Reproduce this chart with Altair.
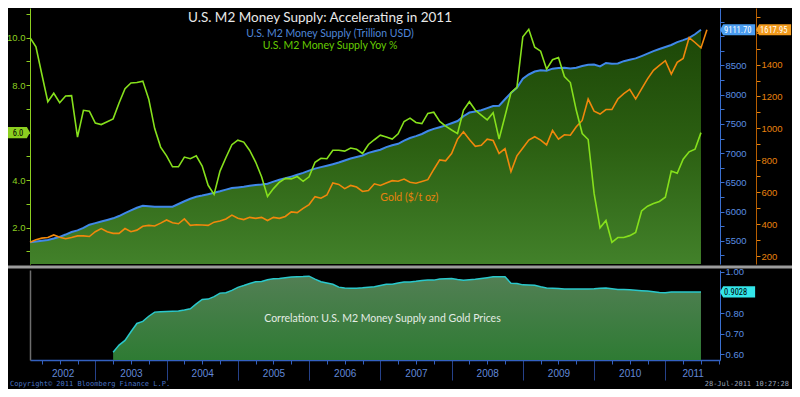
import altair as alt
import pandas as pd

# ---------------- data ----------------
# monthly observations, month-end positions, Jan 2002 .. Jul 2011
MONTHS = [f"{2002 + k // 12}-{k % 12 + 1:02d}" for k in range(115)]

# U.S. M2 money supply YoY % (Jan 2002 .. Jun 2011)
M2_YOY = [10.00, 9.61, 8.45, 7.30, 7.66, 7.26, 7.54, 7.56, 5.81, 6.94,
          6.90, 6.40, 6.34, 6.46, 6.58, 7.25, 7.85, 8.09, 8.11, 8.17,
          7.41, 6.17, 5.39, 5.02, 4.56, 4.56, 4.97, 4.90, 5.02, 4.59,
          3.78, 3.40, 4.38, 4.95, 5.49, 5.68, 5.60, 5.25, 4.76, 4.14,
          3.31, 3.64, 3.91, 4.07, 4.05, 4.15, 3.95, 4.14, 4.75, 4.92,
          4.90, 5.26, 5.26, 5.22, 5.35, 5.30, 5.12, 5.50, 5.70, 5.89,
          5.82, 5.73, 5.95, 6.47, 6.61, 6.43, 6.38, 6.81, 6.86, 6.47,
          6.27, 6.11, 5.96, 6.94, 7.30, 6.94, 6.74, 6.54, 6.84, 5.73,
          6.70, 7.68, 7.91, 10.04, 10.35, 9.60, 9.43, 8.67, 9.07, 9.16,
          8.36, 8.11, 6.94, 5.96, 5.71, 3.44, 1.99, 2.30, 1.38, 1.58,
          1.58, 1.66, 1.79, 2.70, 2.90, 3.01, 3.10, 3.28, 4.38, 4.29,
          4.88, 5.19, 5.30, 6.00]

# U.S. M2 money supply level (billion USD, Jan 2002 .. Jun 2011)
M2_LEVEL = [5474, 5487, 5500, 5513, 5538, 5567, 5606, 5650, 5678, 5720,
            5774, 5802, 5828, 5856, 5884, 5923, 5973, 6019, 6064, 6097,
            6090, 6081, 6081, 6082, 6083, 6129, 6176, 6218, 6253, 6273,
            6297, 6320, 6346, 6375, 6403, 6413, 6425, 6440, 6453, 6461,
            6477, 6512, 6543, 6569, 6598, 6629, 6662, 6700, 6735, 6760,
            6785, 6811, 6839, 6874, 6909, 6933, 6959, 7004, 7032, 7058,
            7102, 7134, 7160, 7214, 7259, 7291, 7328, 7378, 7415, 7444,
            7475, 7512, 7549, 7631, 7694, 7713, 7733, 7770, 7805, 7812,
            7922, 8031, 8119, 8275, 8346, 8396, 8420, 8410, 8446, 8458,
            8461, 8448, 8463, 8490, 8514, 8517, 8484, 8543, 8529, 8535,
            8574, 8597, 8621, 8661, 8703, 8746, 8782, 8817, 8851, 8900,
            8934, 8972, 9035, 9111.70]

# Gold ($/t oz, Jan 2002 .. Jul 2011)
GOLD = [287, 303, 313, 317, 333, 319, 309, 317, 327, 327,
        323, 353, 373, 353, 343, 343, 373, 353, 363, 387,
        393, 389, 407, 427, 409, 403, 433, 393, 397, 395,
        393, 413, 420, 433, 457, 437, 429, 443, 437, 443,
        423, 443, 437, 449, 477, 473, 499, 523, 573, 563,
        583, 659, 649, 623, 643, 633, 605, 611, 653, 643,
        658, 673, 669, 683, 663, 657, 668, 679, 743, 803,
        797, 843, 933, 979, 930, 888, 894, 933, 924, 843,
        873, 729, 828, 878, 927, 948, 927, 897, 987, 933,
        960, 957, 1010, 1050, 1184, 1108, 1090, 1118, 1118, 1184,
        1218, 1244, 1184, 1248, 1310, 1364, 1394, 1424, 1340, 1414,
        1438, 1568, 1538, 1504, 1617.95]

# Correlation M2 vs gold (Mar 2003 .. Jun 2011)
CORR_START = "2003-03"
CORR = [0.611, 0.645, 0.668, 0.710, 0.750, 0.760, 0.785, 0.805, 0.807, 0.808,
        0.809, 0.810, 0.815, 0.821, 0.845, 0.866, 0.868, 0.880, 0.897, 0.899,
        0.910, 0.925, 0.934, 0.944, 0.952, 0.953, 0.962, 0.967, 0.968, 0.972,
        0.975, 0.976, 0.977, 0.979, 0.965, 0.952, 0.946, 0.940, 0.926, 0.922,
        0.921, 0.921, 0.923, 0.926, 0.928, 0.934, 0.940, 0.940, 0.946, 0.951,
        0.951, 0.954, 0.958, 0.960, 0.960, 0.965, 0.967, 0.968, 0.963, 0.959,
        0.962, 0.964, 0.968, 0.972, 0.976, 0.976, 0.976, 0.945, 0.944, 0.937,
        0.936, 0.935, 0.928, 0.922, 0.921, 0.919, 0.917, 0.917, 0.917, 0.917,
        0.917, 0.918, 0.920, 0.922, 0.918, 0.914, 0.914, 0.913, 0.911, 0.909,
        0.907, 0.904, 0.900, 0.899, 0.902, 0.902, 0.902, 0.902, 0.903, 0.9028]

YEARS = list(range(2002, 2012))

# ---------------- tables ----------------
def month_pos(m):
    y, mo = m.split("-")
    return int(y) + int(mo) / 12.0

T = [month_pos(m) for m in MONTHS]
df_m2 = pd.DataFrame({"t": T[:len(M2_LEVEL)], "m2": M2_LEVEL, "yoy": M2_YOY})
df_gold = pd.DataFrame({"t": T[:len(GOLD)], "gold": GOLD})
ci = MONTHS.index(CORR_START)
df_corr = pd.DataFrame({"t": T[ci:ci + len(CORR)], "corr": CORR})

# ---------------- layout / style ----------------
W, H = 690, 352
TOP_H = 256
BOT_TOP = 262
PAD_L, PAD_R, PAD_B = 22, 72, 29
GOLD_OFF = 36
X_DOMAIN = [2002 + 1 / 12, 2011.767]

FONT_T = "Lato"
FONT_A = "Liberation Sans"
FONT_TAG = "Liberation Sans Narrow, Roboto Condensed, Liberation Sans"
BLUE = "#4088e8"
BLUE_AX = "#3a6fd0"
BLUE_LBL = "#5a8ee0"
GREEN = "#86e01c"
GREEN_AX = "#8ccf20"
ORANGE = "#f0880c"
ORANGE_AX = "#b85e00"
ORANGE_LBL = "#e8820e"
CYAN = "#2ac8cc"

xs = alt.Scale(domain=X_DOMAIN, nice=False, zero=False)
s_yoy = alt.Scale(domain=[0.465, 11.25], range=[TOP_H, 0], nice=False, zero=False)
s_m2 = alt.Scale(domain=[5102, 9484], range=[TOP_H, 0], nice=False, zero=False)
s_gold = alt.Scale(domain=[151, 1754], range=[TOP_H, 0], nice=False, zero=False)
s_corr = alt.Scale(domain=[0.573, 1.009], range=[H, BOT_TOP], nice=False, zero=False)

year_mids = []
for y in YEARS:
    a, b = max(y, X_DOMAIN[0]), min(y + 1, X_DOMAIN[1])
    year_mids.append((a + b) / 2)
year_ticks = [y for y in YEARS if X_DOMAIN[0] < y < X_DOMAIN[1]]
quarter_ticks = [y + q / 4 for y in YEARS for q in (1, 2, 3) if X_DOMAIN[0] < y + q / 4 < X_DOMAIN[1]]

ax_years = alt.Axis(orient="bottom", values=year_mids, labelExpr="'' + floor(datum.value)",
                    ticks=False, tickSize=0, domain=False, grid=False, title=None,
                    labelColor="#6088d8", labelFontSize=10, labelFont=FONT_A, labelPadding=8,
                    labelFlush=False, labelOverlap=False, labelBaseline="top")
ax_major = alt.Axis(orient="bottom", values=year_ticks, labels=False, tickSize=20,
                    tickColor="#25418a", domainColor="#3360c0", domainWidth=1.5, grid=False, title=None)
ax_minor = alt.Axis(orient="bottom", values=quarter_ticks, labels=False, tickSize=4,
                    tickColor="#3360c0", domain=False, grid=False, title=None)

# labels hidden where the last-value tags sit on top of them (as in the reference)
ax_blue = alt.Axis(orient="right", values=list(range(5250, 9500, 250)),
                   labelExpr="datum.value % 500 == 0 && datum.value < 9000 ? format(datum.value, 'd') : ''",
                   labelOverlap=False, labelColor=BLUE_LBL, tickColor=BLUE_AX, domainColor=BLUE_AX,
                   tickSize=4, labelFontSize=9.5, labelFont=FONT_A, labelPadding=1, grid=False, title=None)
ax_gold = alt.Axis(orient="right", offset=GOLD_OFF, values=list(range(200, 1800, 100)),
                   labelExpr="datum.value % 200 == 0 && datum.value < 1600 ? format(datum.value, 'd') : ''",
                   labelOverlap=False, labelColor=ORANGE_LBL, tickColor=ORANGE_LBL, domainColor=ORANGE_AX,
                   tickSize=4, labelFontSize=9.5, labelFont=FONT_A, labelPadding=1, grid=False, title=None)
ax_yoy = alt.Axis(orient="left", values=list(range(1, 12)),
                  labelExpr="datum.value % 2 == 0 && datum.value != 6 ? format(datum.value, '.1f') : ''",
                  labelOverlap=False, labelColor=GREEN_AX, tickColor=GREEN_AX, domainColor=GREEN_AX,
                  tickSize=4, labelFontSize=9.5, labelFont=FONT_A, labelPadding=1, grid=False, title=None)
ax_corr = alt.Axis(orient="right", values=[0.6, 0.7, 0.8, 0.9, 1.0],
                   labelExpr="abs(datum.value - 0.9) < 0.001 ? '' : format(datum.value, '.2f')",
                   labelOverlap=False, labelColor=BLUE_LBL, tickColor=BLUE_AX, domainColor=BLUE_AX,
                   tickSize=4, labelFontSize=9.5, labelFont=FONT_A, labelPadding=1, grid=False, title=None)
ax_corr_left = alt.Axis(orient="left", labels=False, ticks=False, domainColor="#6e6e6e",
                        domainWidth=1.5, grid=False, title=None)

grad_top = alt.Gradient(gradient="linear", x1=0, x2=0, y1=0, y2=1,
                        stops=[alt.GradientStop(color="#1c4607", offset=0),
                               alt.GradientStop(color="#2c6012", offset=0.5),
                               alt.GradientStop(color="#42812a", offset=1)])
grad_bot = alt.Gradient(gradient="linear", x1=0, x2=0, y1=0, y2=1,
                        stops=[alt.GradientStop(color="#527f54", offset=0),
                               alt.GradientStop(color="#2e7b33", offset=1)])

# ---------------- layers ----------------
m2 = alt.Chart(df_m2)
area_top = m2.mark_area(color=grad_top).encode(
    x=alt.X("t:Q", scale=xs, axis=None),
    y=alt.Y("m2:Q", scale=s_m2, axis=ax_blue),
    y2=alt.datum(s_m2.domain[0]),
)
line_blue = m2.mark_line(color=BLUE, strokeWidth=2).encode(
    x=alt.X("t:Q", scale=xs, axis=None),
    y=alt.Y("m2:Q", scale=s_m2, axis=None),
)
line_gold = alt.Chart(df_gold).mark_line(color=ORANGE, strokeWidth=1.6).encode(
    x=alt.X("t:Q", scale=xs, axis=ax_minor),
    y=alt.Y("gold:Q", scale=s_gold, axis=ax_gold),
)
line_green = m2.mark_line(color=GREEN, strokeWidth=1.6).encode(
    x=alt.X("t:Q", scale=xs, axis=None),
    y=alt.Y("yoy:Q", scale=s_yoy, axis=ax_yoy),
)

corr = alt.Chart(df_corr)
area_corr = corr.mark_area(color=grad_bot).encode(
    x=alt.X("t:Q", scale=xs, axis=ax_years),
    y=alt.Y("corr:Q", scale=s_corr, axis=ax_corr_left),
    y2=alt.datum(s_corr.domain[0]),
)
line_corr = corr.mark_line(color=CYAN, strokeWidth=1.5).encode(
    x=alt.X("t:Q", scale=xs, axis=ax_major),
    y=alt.Y("corr:Q", scale=s_corr, axis=ax_corr),
)

sep = alt.Chart(pd.DataFrame({"k": [0]})).mark_rule(color="#9c9c9c", strokeWidth=3).encode(
    x=alt.value(-PAD_L), x2=alt.value(W + PAD_R), y=alt.value(TOP_H + 3)
)

TAG_R = "M0,0L0.35,-0.62L3.9,-0.62L3.9,0.62L0.35,0.62Z"
TAG_L = "M0,0L-0.35,-0.62L-2.45,-0.62L-2.45,0.62L-0.35,0.62Z"


def tag(value, scale, x, shape, fill, text, tx, tcolor, align="left"):
    d = alt.Chart(pd.DataFrame({"v": [value], "s": [text]}))
    p = d.mark_point(shape=shape, size=324, filled=True, color=fill, opacity=1, strokeWidth=0).encode(
        x=alt.value(x), y=alt.Y("v:Q", scale=scale, axis=None))
    t = d.mark_text(align=align, baseline="middle", color=tcolor, fontSize=8.5, font=FONT_TAG).encode(
        x=alt.value(tx), y=alt.Y("v:Q", scale=scale, axis=None), text="s:N")
    return [p, t]


tags = []
tags += tag(M2_LEVEL[-1], s_m2, W, TAG_R, "#4a9cf0", f"{M2_LEVEL[-1]:.2f}", W + 4, "white")
tags += tag(GOLD[-1], s_gold, W + GOLD_OFF, TAG_R, "#f29a1c", f"{GOLD[-1]:.2f}", W + GOLD_OFF + 4, "white")
tags += tag(M2_YOY[-1], s_yoy, 0, TAG_L, GREEN_AX, f"{M2_YOY[-1]:.1f}", -12, "black", align="center")
tags += tag(CORR[-1], s_corr, W, TAG_R, "#33e6ea", f"{CORR[-1]:.4f}", W + 4, "black")


def label(text, x, y, color, size, font=FONT_T, align="center"):
    return alt.Chart(pd.DataFrame({"s": [text]})).mark_text(
        align=align, baseline="middle", color=color, fontSize=size, font=font
    ).encode(x=alt.value(x), y=alt.value(y), text="s:N")


title = label("U.S. M2 Money Supply: Accelerating in 2011", 290, 10, "#e8e8e8", 13.5)
leg1 = label("U.S. M2 Money Supply (Trillion USD)", 300, 26, "#4f86d8", 10.5)
leg2 = label("U.S. M2 Money Supply Yoy %", 300, 38, "#66cc00", 10.5)
copyright_ = label("Copyright\u00a9 2011 Bloomberg Finance L.P.", -20, H + 24, "#4a73c4", 7,
                   font="DejaVu Sans Mono", align="left")
stamp = label("28-Jul-2011 10:27:28", W + PAD_R - 3, H + 24, "#9aa4b8", 7,
              font="DejaVu Sans Mono", align="right")

gold_lbl = alt.Chart(pd.DataFrame({"t": [2007.0], "v": [565], "s": ["Gold ($/t oz)"]})).mark_text(
    align="left", baseline="middle", color=ORANGE_LBL, fontSize=10.5, font=FONT_T
).encode(x=alt.X("t:Q", scale=xs, axis=None), y=alt.Y("v:Q", scale=s_gold, axis=None), text="s:N")
corr_lbl = alt.Chart(pd.DataFrame({"t": [2007.03], "v": [0.771],
                                   "s": ["Correlation: U.S. M2 Money Supply and Gold Prices"]})).mark_text(
    align="center", baseline="middle", color="#e4ece4", fontSize=10.5, font=FONT_T
).encode(x=alt.X("t:Q", scale=xs, axis=None), y=alt.Y("v:Q", scale=s_corr, axis=None), text="s:N")

chart = alt.layer(
    area_top, sep, area_corr, line_corr, line_blue, line_gold, line_green,
    gold_lbl, corr_lbl, title, leg1, leg2, copyright_, stamp, *tags
).resolve_scale(y="independent", x="shared").resolve_axis(x="independent", y="independent").properties(
    width=W, height=H,
    autosize=alt.AutoSizeParams(type="none"),
    padding={"left": PAD_L, "top": 0, "right": PAD_R, "bottom": PAD_B},
).configure(background="black").configure_view(stroke=None)

chart.save("out.html", embed_options={"renderer": "svg", "actions": False})
